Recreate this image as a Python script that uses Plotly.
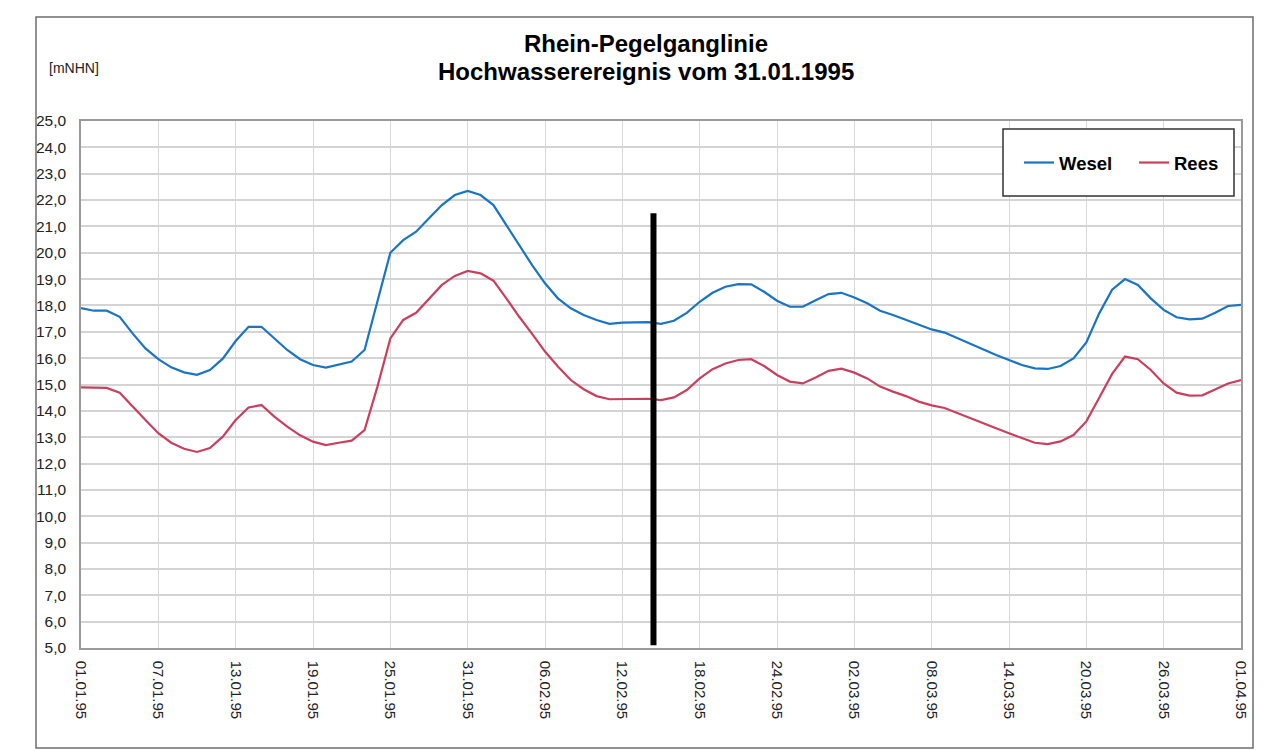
import datetime as dt
import plotly.graph_objects as go

start_date = "1995-01-01"
end_date = "1995-04-01"
marker_date = "1995-02-14 10:00"
marker_range = [5.1, 21.5]

wesel = [17.9, 17.8, 17.8, 17.57, 16.94, 16.37, 15.96, 15.65, 15.46, 15.37,
         15.55, 15.98, 16.65, 17.19, 17.19, 16.75, 16.31, 15.96, 15.74, 15.64,
         15.75, 15.87, 16.31, 18.2, 20.0, 20.48, 20.8, 21.31, 21.81, 22.19,
         22.35, 22.19, 21.81, 21.05, 20.29, 19.53, 18.84, 18.27, 17.89, 17.64,
         17.45, 17.3, 17.35, 17.37, 17.37, 17.3, 17.42, 17.72, 18.14, 18.48,
         18.71, 18.81, 18.8, 18.52, 18.18, 17.95, 17.95, 18.2, 18.43, 18.48,
         18.3, 18.08, 17.8, 17.64, 17.45, 17.26, 17.09, 16.97, 16.75, 16.54,
         16.33, 16.12, 15.93, 15.74, 15.61, 15.59, 15.7, 15.99, 16.6, 17.7,
         18.6, 19.0, 18.78, 18.27, 17.83, 17.55, 17.47, 17.5, 17.72, 17.98,
         18.02]

rees = [14.89, 14.89, 14.87, 14.69, 14.16, 13.65, 13.15, 12.79, 12.56, 12.44,
        12.59, 13.02, 13.65, 14.13, 14.22, 13.78, 13.4, 13.07, 12.83, 12.7,
        12.79, 12.87, 13.27, 14.92, 16.75, 17.45, 17.72, 18.27, 18.78, 19.12,
        19.31, 19.22, 18.94, 18.27, 17.57, 16.92, 16.25, 15.68, 15.17, 14.82,
        14.56, 14.44, 14.44, 14.46, 14.46, 14.41, 14.51, 14.79, 15.23, 15.58,
        15.8, 15.93, 15.96, 15.7, 15.36, 15.11, 15.04, 15.27, 15.52, 15.6,
        15.45, 15.23, 14.92, 14.73, 14.56, 14.35, 14.21, 14.11, 13.91, 13.72,
        13.53, 13.34, 13.15, 12.96, 12.79, 12.74, 12.84, 13.08, 13.6, 14.5,
        15.4, 16.06, 15.96, 15.55, 15.04, 14.69, 14.58, 14.59, 14.82, 15.04,
        15.17]

base = dt.date.fromisoformat(start_date)
dates = [base + dt.timedelta(days=i) for i in range(len(wesel))]

# page offset (browser body margin) compensation
OFF = 8
W, H = 1273 - OFF, 751 - OFF
PL, PR, PT, PB = 81, 1241, 121, 648   # plot area in page pixels
pw, ph = PR - PL, PB - PT


def px(x):
    return (x - PL) / pw


def py(y):
    return (PB - y) / ph


fig = go.Figure()
fig.add_trace(go.Scatter(x=dates, y=wesel, mode="lines", name="<b>Wesel</b>",
                         line=dict(color="#1a74c4", width=2.2)))
fig.add_trace(go.Scatter(x=dates, y=rees, mode="lines", name="<b>Rees</b>",
                         line=dict(color="#c9405f", width=2.2)))

# vertical black marker line
fig.add_shape(type="line", xref="x", yref="y", x0=marker_date, x1=marker_date,
              y0=marker_range[0], y1=marker_range[1],
              line=dict(color="black", width=6))

# outer frame
fig.add_shape(type="rect", xref="paper", yref="paper",
              x0=px(36), x1=px(1253), y0=py(748), y1=py(17),
              line=dict(color="#6e6e6e", width=1.5))

# legend box
fig.add_shape(type="rect", xref="paper", yref="paper",
              x0=px(1003), x1=px(1234), y0=py(196), y1=py(129),
              line=dict(color="#333333", width=1.5), fillcolor="white", layer="above")

font_family = "Liberation Sans, Arial, sans-serif"

fig.add_annotation(text="<b>Rhein-Pegelganglinie</b>", xref="paper", yref="paper",
                   x=px(646), y=py(43), showarrow=False,
                   xanchor="center", yanchor="middle",
                   font=dict(size=24, color="black", family=font_family))
fig.add_annotation(text="<b>Hochwasserereignis vom 31.01.1995</b>", xref="paper", yref="paper",
                   x=px(646), y=py(72), showarrow=False,
                   xanchor="center", yanchor="middle",
                   font=dict(size=24, color="black", family=font_family))
fig.add_annotation(text="[mNHN]", xref="paper", yref="paper",
                   x=px(47), y=py(68), showarrow=False,
                   xanchor="left", yanchor="middle",
                   font=dict(size=14, color="#222222", family=font_family))

fig.update_layout(
    width=W, height=H,
    margin=dict(l=PL - OFF, r=W - (PR - OFF), t=PT - OFF, b=H - (PB - OFF), autoexpand=False),
    paper_bgcolor="white", plot_bgcolor="white",
    separators=",.",
    font=dict(family=font_family, color="#222222"),
    showlegend=True,
    legend=dict(orientation="h", x=px(1019), y=py(163),
                xanchor="left", yanchor="middle", bgcolor="rgba(0,0,0,0)",
                borderwidth=0, font=dict(size=18.5, color="black", family=font_family),
                itemwidth=30, entrywidth=70, entrywidthmode="pixels"),
)

fig.update_xaxes(type="date", range=[start_date, end_date], automargin=False,
                 tick0=start_date, dtick=6 * 86400000, tickformat="%d.%m.%y",
                 tickangle=90, tickfont=dict(size=15, color="#222222"),
                 showgrid=True, gridcolor="#d9d9d9", gridwidth=1,
                 showline=True, linecolor="#9a9a9a", linewidth=1.5, mirror=True,
                 ticks="", ticklabelstandoff=8)
fig.update_yaxes(range=[5, 25], dtick=1, tick0=5, tickformat=".1f", automargin=False,
                 tickfont=dict(size=15.5, color="#222222"),
                 showgrid=True, gridcolor="#d4d4d4", gridwidth=1.5,
                 showline=True, linecolor="#9a9a9a", linewidth=1.5, mirror=True,
                 ticks="", zeroline=False, ticklabelstandoff=10)

fig.write_html("out.html")
